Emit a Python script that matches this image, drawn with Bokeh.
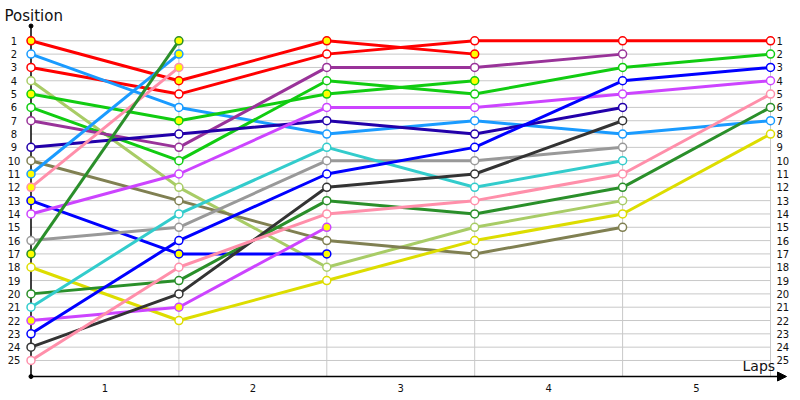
from bokeh.plotting import figure
from bokeh.models import Range1d, Arrow, NormalHead
from bokeh.core.properties import value
from bokeh.embed import file_html
from bokeh.resources import INLINE

# ---------------- data ----------------
laps = [0, 1, 2, 3, 4, 5]
positions = list(range(1, 26))
lap_labels = ["1", "2", "3", "4", "5"]

# position of each car at the end of each lap (lap 0 = grid)
red_a = [1, 4, 1, 2]
red_b = [3, 5, 2, 1, 1, 1]
sky_a = [2, 6, 8, 7, 8, 7]
lolive = [4, 12, 18, 15, 13]
green_a = [5, 7, 5, 4]
green_b = [6, 10, 4, 5, 3, 2]
purple = [7, 9, 3, 3, 2]
navy = [9, 8, 7, 8, 6]
olive = [10, 13, 16, 17, 15]
sky_b = [11, 2]
pink_a = [12, 3]
blue_a = [13, 17, 17]
magenta_a = [14, 11, 6, 6, 5, 4]
gray = [16, 15, 10, 10, 9]
dgreen_a = [17, 1]
yellow = [18, 22, 19, 16, 14, 8]
dgreen_b = [20, 19, 13, 14, 12, 6]
cyan = [21, 14, 9, 12, 10]
magenta_b = [22, 21, 15]
blue_b = [23, 16, 11, 9, 4, 3]
dgray = [24, 20, 12, 11, 7]
pink_b = [25, 18, 14, 13, 11, 5]

# (values, colour, retired)
series = [
    (red_a, "#FF0000", True),
    (red_b, "#FF0000", False),
    (sky_a, "#1A9BFF", False),
    (lolive, "#A8CC66", False),
    (green_a, "#11CC11", True),
    (green_b, "#11CC11", False),
    (purple, "#993399", False),
    (navy, "#2200AA", False),
    (olive, "#808052", False),
    (sky_b, "#1A9BFF", True),
    (pink_a, "#FF8FAA", True),
    (blue_a, "#0000FF", True),
    (magenta_a, "#CC44FF", False),
    (gray, "#999999", False),
    (dgreen_a, "#2A8F2A", True),
    (yellow, "#DDDD00", False),
    (dgreen_b, "#2A8F2A", False),
    (cyan, "#33CCCC", False),
    (magenta_b, "#CC44FF", True),
    (blue_b, "#0000FF", False),
    (dgray, "#333333", False),
    (pink_b, "#FF8FAA", False),
]

# ---------------- layout (pixels inside the figure) ----------------
W, H = 800, 400
LAP0_PX, LAP_PX = 30.5, 147.9
POS1_PX, POS_PX = 40.3, 13.32


def px2x(fx):
    return (fx - LAP0_PX) / LAP_PX


def px2y(fy):
    return 1 + (fy - POS1_PX) / POS_PX


p = figure(width=W, height=H, output_backend="svg", toolbar_location=None,
           x_range=Range1d(px2x(0), px2x(W)), y_range=Range1d(px2y(H), px2y(0)),
           min_border=0, x_axis_type=None, y_axis_type=None)
p.outline_line_color = None
p.grid.visible = False
p.background_fill_color = "white"
p.border_fill_color = "white"

FONT = value("DejaVu Sans")
last_lap = laps[-1]
x_axis_y = px2y(376)

# grid
p.segment(x0=[laps[0]] * len(positions), x1=[last_lap] * len(positions),
          y0=positions, y1=positions, line_color="#C8C8C8", line_width=1)
p.segment(x0=laps[1:], x1=laps[1:], y0=[positions[0] - 0.3] * (len(laps) - 1),
          y1=[x_axis_y] * (len(laps) - 1), line_color="#C8C8C8", line_width=1)

# axes
p.segment(x0=[0], x1=[0], y0=[px2y(26)], y1=[x_axis_y], line_color="black", line_width=1.5)
p.add_layout(Arrow(end=NormalHead(size=9, fill_color="black", line_color="black"),
                   x_start=0, y_start=x_axis_y, x_end=px2x(786), y_end=x_axis_y,
                   line_color="black", line_width=1.5))
p.scatter(x=[0, 0], y=[px2y(25.5), x_axis_y], size=4, color="black")

# lines
for vals, col, ret in series:
    p.line(x=laps[:len(vals)], y=vals, line_color=col, line_width=3)
# markers
for vals, col, ret in series:
    p.scatter(x=laps[:len(vals)], y=vals, size=8, fill_color="#FFFF00" if ret else "white",
              line_color=col, line_width=1.5)

# tick labels
p.text(x=[px2x(13.5)] * len(positions), y=positions, text=[str(v) for v in positions],
       text_font=FONT, text_font_size=value("10px"), text_align="center",
       text_baseline="middle", text_color="#111111")
p.text(x=[px2x(776)] * len(positions), y=positions, text=[str(v) for v in positions],
       text_font=FONT, text_font_size=value("10px"), text_align="left",
       text_baseline="middle", text_color="#111111")
p.text(x=[l - 0.5 for l in laps[1:]], y=[px2y(387)] * len(lap_labels), text=lap_labels,
       text_font=FONT, text_font_size=value("10px"), text_align="center",
       text_baseline="middle", text_color="#111111")

# titles
p.text(x=[px2x(4)], y=[px2y(15)], text=["Position"], text_font=FONT,
       text_font_size=value("15px"), text_align="left", text_baseline="middle",
       text_color="#111111")
p.text(x=[px2x(742)], y=[px2y(365)], text=["Laps"], text_font=FONT,
       text_font_size=value("14px"), text_align="left", text_baseline="middle",
       text_color="#111111")

open("out.html", "w").write(file_html(p, INLINE))
